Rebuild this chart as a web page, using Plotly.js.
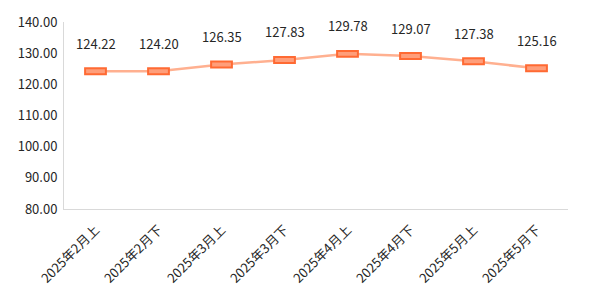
<!DOCTYPE html>
<html>
<head>
<meta charset="utf-8">
<script src="https://cdn.plot.ly/plotly-3.0.1.min.js"></script>
<style>html,body{margin:0;padding:0;background:#fff}#chart{width:600px;height:298px}</style>
</head>
<body>
<div id="chart"></div>
<script>
const categories = ["2025年2月上","2025年2月下","2025年3月上","2025年3月下","2025年4月上","2025年4月下","2025年5月上","2025年5月下"];
const values = [124.22, 124.20, 126.35, 127.83, 129.78, 129.07, 127.38, 125.16];

const FONT = '"Noto Sans CJK SC", "Noto Sans", sans-serif';
const markH = 1.9;   // marker rectangle height in data units (style)
const lineTrace = {
  type: 'scatter', mode: 'lines', x: categories, y: values,
  line: {color: '#FFB090', width: 2.5}, hoverinfo: 'skip', xaxis: 'x', yaxis: 'y'
};
const rectTrace = {
  type: 'bar', x: categories, y: values.map(() => markH), base: values.map(v => v - markH / 2),
  width: 0.33, marker: {color: '#FF9E7A', line: {color: '#FF6A33', width: 2}},
  xaxis: 'x', yaxis: 'y2', hoverinfo: 'skip'
};
const annotations = categories.map((c, i) => ({
  x: c, y: values[i], xref: 'x', yref: 'y', text: values[i].toFixed(2),
  showarrow: false, yshift: 28, font: {family: FONT, size: 13, color: '#262626'}
}));
const yBase = {range: [80, 140], dtick: 10, tick0: 80, showgrid: false, zeroline: false};
const layout = {
  width: 600, height: 298,
  margin: {l: 64, r: 32, t: 22, b: 89},
  paper_bgcolor: '#fff', plot_bgcolor: '#fff',
  font: {family: FONT, size: 13, color: '#262626'},
  showlegend: false,
  xaxis: {type: 'category', tickangle: -45, showline: true, linecolor: '#d9d9d9', linewidth: 1,
          showgrid: false, zeroline: false, ticks: '', ticklabelstandoff: 7,
          tickfont: {family: FONT, size: 13, color: '#262626'}},
  yaxis: Object.assign({}, yBase, {tickformat: '.2f', showline: true, linecolor: '#d9d9d9', linewidth: 1,
          ticks: '', ticklabelstandoff: 3, tickfont: {family: FONT, size: 13, color: '#262626'}}),
  yaxis2: Object.assign({}, yBase, {overlaying: 'y', showticklabels: false, showline: false}),
  annotations: annotations
};
Plotly.newPlot('chart', [lineTrace, rectTrace], layout, {displayModeBar: false, staticPlot: true});
</script>
</body>
</html>
